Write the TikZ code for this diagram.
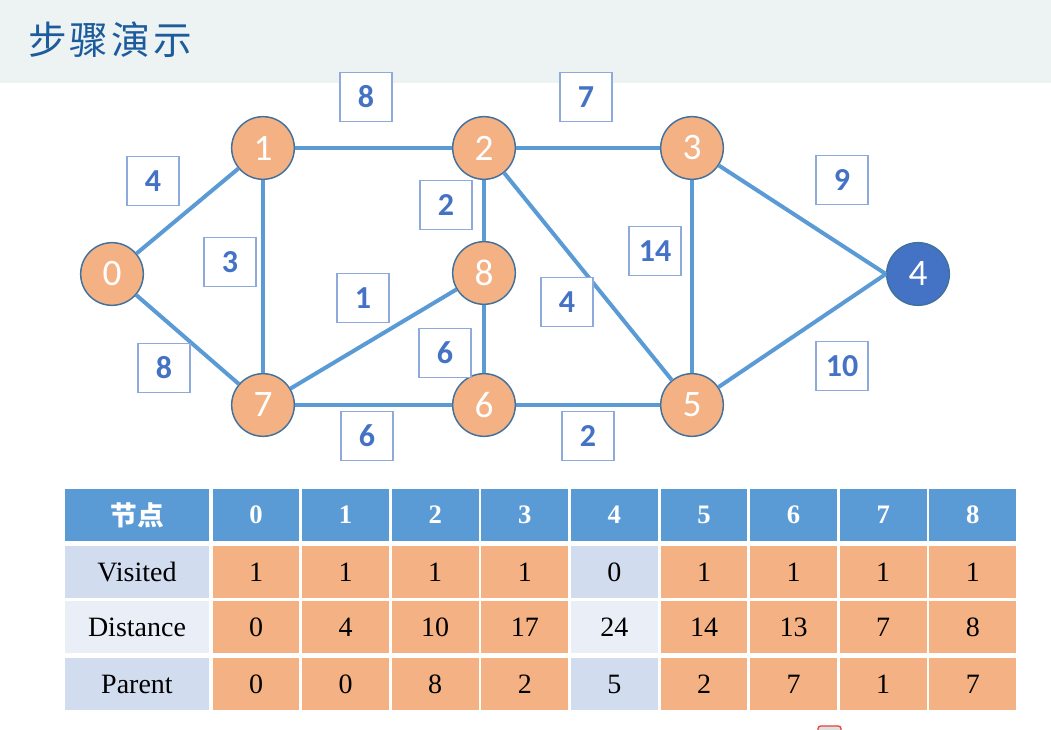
\documentclass[tikz,border=0pt]{standalone}
\usepackage{fontspec}
\setmainfont{Liberation Serif}
\newfontfamily\cjk{Noto Sans CJK SC}
\newfontfamily\cjktitle[LetterSpace=8]{Noto Sans CJK SC}
\newfontfamily\carlito{Carlito}
\definecolor{titlebg}{HTML}{EDF2F3}
\definecolor{titlefg}{HTML}{1D5C9C}
\definecolor{edgec}{HTML}{5B9BD5}
\definecolor{nodefill}{HTML}{F4B183}
\definecolor{nodeline}{HTML}{41719C}
\definecolor{bluefill}{HTML}{4472C4}
\definecolor{labfg}{HTML}{4472C4}
\definecolor{labline}{HTML}{8EA9DB}
\definecolor{hdr}{HTML}{5B9BD5}
\definecolor{rowA}{HTML}{D1DCEE}
\definecolor{rowB}{HTML}{E9EEF7}
\definecolor{iconred}{HTML}{E8433A}
\begin{document}
\begin{tikzpicture}[x=0.75pt,y=-0.75pt,
  vert/.style={circle,draw=nodeline,line width=1.1pt,fill=nodefill,minimum size=47pt,inner sep=0pt,text=white,font=\carlito\fontsize{28}{30}\selectfont},
  goal/.style={vert,fill=bluefill},
  edge/.style={draw=edgec,line width=3pt},
  wlab/.style={draw=labline,line width=1pt,fill=white,minimum width=39pt,minimum height=37pt,inner sep=0pt,text=labfg,font=\carlito\bfseries\fontsize{24}{26}\selectfont},
  cell/.style={minimum width=65pt,minimum height=39pt,inner sep=0pt,font=\fontsize{21}{24}\selectfont},
  hcell/.style={cell,fill=hdr,text=white,font=\bfseries\fontsize{20}{22}\selectfont},
  ocell/.style={cell,fill=nodefill},
  acell/.style={cell,fill=rowA},
  bcell/.style={cell,fill=rowB}
]
\useasboundingbox (0,0) rectangle (1051,730);
% title bar
\fill[titlebg] (0,0) rectangle (1051,83);
\node[anchor=west,text=titlefg,font=\cjktitle\fontsize{29}{31}\selectfont,inner sep=0pt] (title) at (28,40) {步骤演示};

% vertices
\node[vert] (n0) at (112,274) {0};
\node[vert] (n1) at (263,148) {1};
\node[vert] (n2) at (484,148) {2};
\node[vert] (n3) at (692,148) {3};
\node[goal] (n4) at (918,274) {4};
\node[vert] (n8) at (484,273) {8};
\node[vert] (n7) at (263,405) {7};
\node[vert] (n6) at (484,405) {6};
\node[vert] (n5) at (692,405) {5};

% edges
\path[edge] (n0) -- (n1);
\path[edge] (n0) -- (n7);
\path[edge] (n1) -- (n2);
\path[edge] (n1) -- (n7);
\path[edge] (n2) -- (n3);
\path[edge] (n2) -- (n8);
\path[edge] (n2) -- (n5);
\path[edge] (n3) -- (n5);
\path[edge] (n3) -- (n4.west);
\path[edge] (n4.west) -- (n5);
\path[edge] (n8) -- (n7);
\path[edge] (n8) -- (n6);
\path[edge] (n7) -- (n6);
\path[edge] (n6) -- (n5);

% weight labels
\node[wlab] (w12) at (366,97) {8};
\node[wlab] (w23) at (586,97) {7};
\node[wlab] (w01) at (153,181) {4};
\node[wlab] (w17) at (230,262) {3};
\node[wlab] (w28) at (446,205) {2};
\node[wlab] (w34) at (842,180) {9};
\node[wlab] (w35) at (655,251) {14};
\node[wlab] (w87) at (363,298) {1};
\node[wlab] (w25) at (567,302) {4};
\node[wlab] (w86) at (445,353) {6};
\node[wlab] (w07) at (164,368) {8};
\node[wlab] (w45) at (842,366) {10};
\node[wlab] (w76) at (367,436) {6};
\node[wlab] (w65) at (588,436) {2};

% table
\node[hcell,minimum width=108pt] (h0) at (137,515) {\cjk 节点};
\node[acell,minimum width=108pt] (r1) at (137,572) {Visited};
\node[bcell,minimum width=108pt] (r2) at (137,627) {Distance};
\node[acell,minimum width=108pt] (r3) at (137,684) {Parent};
\foreach \i/\v/\d/\p in {0/1/0/0,1/1/4/0,2/1/10/8,3/1/17/2,4/0/24/5,5/1/14/2,6/1/13/7,7/1/7/1,8/1/8/7}{
  \pgfmathsetmacro{\cx}{256+\i*89.6}
  \node[hcell] (hc\i) at (\cx,515) {\i};
  \ifnum\i=4
    \node[acell] (vc\i) at (\cx,572) {\v};
    \node[bcell] (dc\i) at (\cx,627) {\d};
    \node[acell] (pc\i) at (\cx,684) {\p};
  \else
    \node[ocell] (vc\i) at (\cx,572) {\v};
    \node[ocell] (dc\i) at (\cx,627) {\d};
    \node[ocell] (pc\i) at (\cx,684) {\p};
  \fi
}
% small icon at bottom edge
\begin{scope}
\clip (0,0) rectangle (1051,730);
\draw[iconred,line width=1pt,fill=gray!25,rounded corners=2pt] (818,726) rectangle (841,745);
\end{scope}
\end{tikzpicture}
\end{document}
